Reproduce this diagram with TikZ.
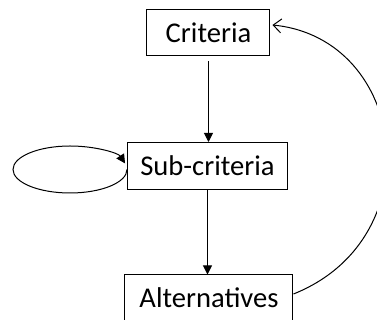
\documentclass[tikz,border=0pt]{standalone}
\usepackage{fontspec}
\setmainfont{Carlito}
\usetikzlibrary{arrows.meta}
\begin{document}
\begin{tikzpicture}[x=0.5pt,y=-0.5pt,
  box/.style={draw=black,line width=0.5pt,inner sep=0pt,font=\fontsize{14.3pt}{16pt}\selectfont},
  flow/.style={line width=0.5pt,-{Triangle[length=4.5pt,width=4.5pt]}},
  back/.style={line width=0.5pt,-{Straight Barb[length=4pt,width=7pt]}}]
\useasboundingbox (0,0) rectangle (377,320);
\clip (0,0) rectangle (377,320);
\node[box,minimum width=61.5pt,minimum height=23pt] (crit) at (208.5,33) {Criteria\hspace{5pt}};
\node[box,minimum width=80pt,minimum height=23.5pt] (sub) at (207.5,166) {Sub-criteria};
\node[box,minimum width=84pt,minimum height=23pt] (alt) at (209,298) {Alternatives};
\draw[flow] ([yshift=-2.5pt]crit.south) -- (crit.south |- sub.north);
\draw[flow] (sub.south) -- (sub.south |- alt.north);
\draw[flow] ([yshift=-1.75pt]sub.west) arc[start angle=0,end angle=-345,x radius=28.5pt,y radius=11.75pt];
\draw[back] ([yshift=2pt]alt.east) .. controls +(140,-56) and +(135,13.5) .. ([xshift=1pt,yshift=4pt]crit.east);
\end{tikzpicture}
\end{document}
